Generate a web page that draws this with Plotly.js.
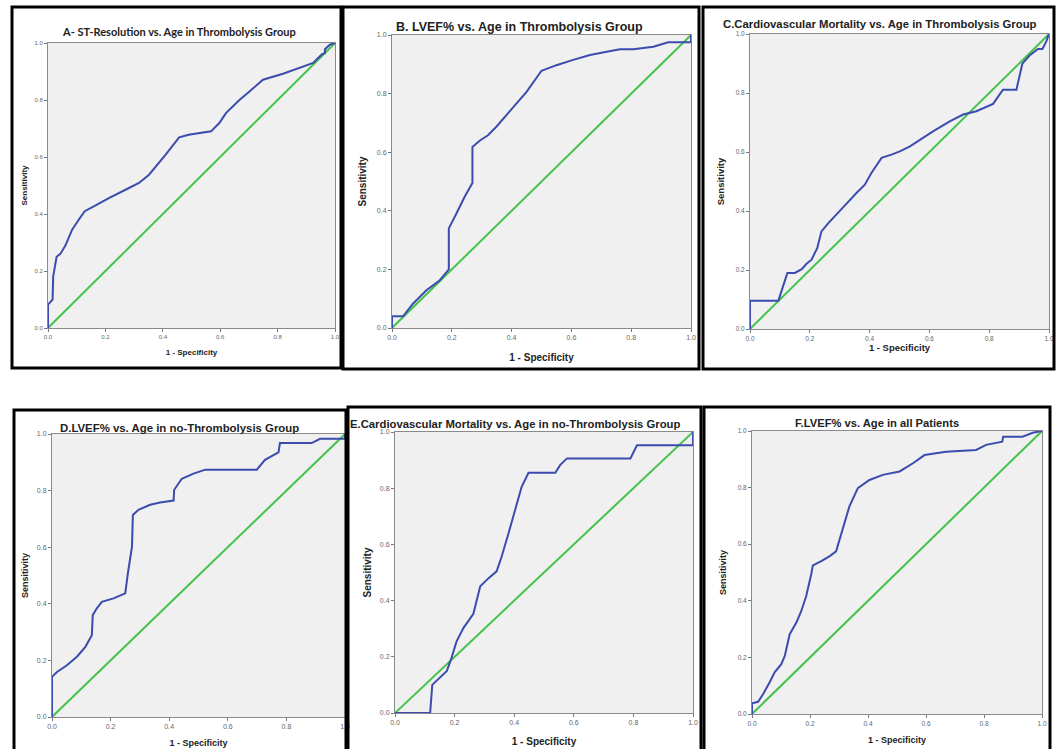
<!DOCTYPE html>
<html>
<head>
<meta charset="utf-8">
<script src="https://cdn.plot.ly/plotly-3.0.1.min.js"></script>
<style>html,body{margin:0;padding:0;background:#fff;}#chart{width:1058px;height:749px;}</style>
</head>
<body>
<div id="chart"></div>
<script>
// ---- Data ----
var panelTitles = [
  "A- ST-Resolution vs. Age in Thrombolysis Group",
  "B. LVEF% vs. Age in Thrombolysis Group",
  "C.Cardiovascular Mortality vs. Age in Thrombolysis Group",
  "D.LVEF% vs. Age in no-Thrombolysis Group",
  "E.Cardiovascular Mortality vs. Age in no-Thrombolysis Group",
  "F.LVEF% vs. Age in all Patients"
];
var xAxisTitle = "1 - Specificity";
var yAxisTitle = "Sensitivity";
var tickVals = [0, 0.2, 0.4, 0.6, 0.8, 1.0];
var tickText = ["0.0", "0.2", "0.4", "0.6", "0.8", "1.0"];
var diagX = [0, 1];
var diagY = [0, 1];

var aX = [0, 0, 0.016, 0.018, 0.03, 0.043, 0.061, 0.084, 0.107, 0.128, 0.166, 0.212, 0.27, 0.317, 0.352, 0.376, 0.41, 0.457, 0.49, 0.568, 0.597, 0.62, 0.667, 0.702, 0.749, 0.819, 0.924, 0.953, 0.965, 0.965, 0.982, 1];
var aY = [0, 0.082, 0.10, 0.18, 0.25, 0.26, 0.29, 0.345, 0.38, 0.41, 0.43, 0.456, 0.485, 0.509, 0.538, 0.567, 0.608, 0.669, 0.678, 0.69, 0.719, 0.754, 0.80, 0.83, 0.871, 0.892, 0.93, 0.959, 0.965, 0.978, 0.994, 1];

var bX = [0, 0, 0.037, 0.07, 0.115, 0.16, 0.19, 0.19, 0.215, 0.243, 0.269, 0.269, 0.293, 0.321, 0.349, 0.383, 0.417, 0.45, 0.5, 0.55, 0.606, 0.662, 0.718, 0.762, 0.807, 0.874, 0.924, 1, 1];
var bY = [0, 0.04, 0.04, 0.083, 0.129, 0.163, 0.20, 0.34, 0.39, 0.448, 0.495, 0.618, 0.639, 0.658, 0.687, 0.727, 0.766, 0.806, 0.878, 0.897, 0.915, 0.932, 0.943, 0.951, 0.951, 0.96, 0.975, 0.975, 1];

var cX = [0, 0, 0.095, 0.111, 0.125, 0.15, 0.173, 0.189, 0.206, 0.225, 0.239, 0.262, 0.29, 0.323, 0.356, 0.384, 0.406, 0.44, 0.473, 0.501, 0.535, 0.568, 0.612, 0.668, 0.713, 0.757, 0.78, 0.813, 0.846, 0.891, 0.911, 0.935, 0.963, 0.978, 0.991, 1];
var cY = [0, 0.096, 0.096, 0.145, 0.19, 0.19, 0.203, 0.221, 0.235, 0.275, 0.331, 0.359, 0.388, 0.425, 0.461, 0.489, 0.529, 0.58, 0.591, 0.602, 0.619, 0.642, 0.67, 0.704, 0.727, 0.738, 0.749, 0.763, 0.811, 0.811, 0.9, 0.927, 0.949, 0.949, 0.975, 1];

var dX = [0, 0, 0.017, 0.051, 0.085, 0.114, 0.136, 0.139, 0.153, 0.17, 0.21, 0.25, 0.259, 0.273, 0.276, 0.295, 0.335, 0.369, 0.415, 0.417, 0.443, 0.483, 0.523, 0.699, 0.727, 0.773, 0.778, 0.886, 0.915, 1, 1];
var dY = [0, 0.142, 0.159, 0.183, 0.213, 0.248, 0.289, 0.36, 0.384, 0.407, 0.419, 0.437, 0.508, 0.602, 0.714, 0.732, 0.75, 0.758, 0.765, 0.803, 0.842, 0.86, 0.874, 0.874, 0.909, 0.935, 0.968, 0.968, 0.983, 0.983, 1];

var eX = [0, 0.118, 0.125, 0.146, 0.174, 0.19, 0.207, 0.23, 0.263, 0.286, 0.314, 0.341, 0.358, 0.381, 0.403, 0.425, 0.448, 0.538, 0.554, 0.577, 0.79, 0.812, 1, 1];
var eY = [0, 0, 0.1, 0.12, 0.15, 0.197, 0.256, 0.303, 0.353, 0.451, 0.48, 0.504, 0.557, 0.64, 0.723, 0.805, 0.855, 0.855, 0.882, 0.906, 0.906, 0.953, 0.953, 1];

var fX = [0, 0, 0.021, 0.038, 0.061, 0.078, 0.101, 0.113, 0.13, 0.153, 0.17, 0.187, 0.204, 0.21, 0.239, 0.268, 0.29, 0.313, 0.336, 0.365, 0.405, 0.451, 0.509, 0.555, 0.595, 0.669, 0.773, 0.807, 0.863, 0.866, 0.933, 0.968, 1];
var fY = [0, 0.038, 0.043, 0.07, 0.112, 0.147, 0.176, 0.205, 0.282, 0.323, 0.364, 0.417, 0.493, 0.525, 0.54, 0.558, 0.575, 0.657, 0.734, 0.798, 0.827, 0.845, 0.857, 0.886, 0.915, 0.927, 0.933, 0.951, 0.962, 0.98, 0.98, 0.994, 1];

var curvesX = [aX, bX, cX, dX, eX, fX];
var curvesY = [aY, bY, cY, dY, eY, fY];

// ---- Layout geometry (pixels) ----
var W = 1058, H = 749;
var plotBoxes = [ // [left, right, top, bottom]
  [48, 335, 43, 328],
  [392, 691, 35, 328],
  [750, 1049, 34, 329],
  [52, 345, 434, 717],
  [395, 693, 432, 713],
  [752, 1042, 431, 714]
];
var frames = [ // [left, right, top, bottom]
  [12, 341, 7, 368],
  [343, 699, 7, 369],
  [703, 1054, 7, 369],
  [14, 346, 410, 762],
  [348, 701, 407, 762],
  [704, 1050, 407, 762]
];
var titleStyle = [ // [centerX, centerY, size, family]
  [179, 32, 11, "Lato, 'Liberation Sans', sans-serif"],
  [519, 27, 12.5, "'Liberation Sans', Arial, sans-serif"],
  [880, 24, 11.3, "'Liberation Sans', Arial, sans-serif"],
  [179, 428, 11.4, "'Liberation Sans', Arial, sans-serif"],
  [515, 424, 11.3, "'Liberation Sans', Arial, sans-serif"],
  [877, 423, 11.2, "'Liberation Sans', Arial, sans-serif"]
];
var axisTitleSize = [8, 10, 9.5, 9, 10, 9];
var xStandoff = [10, 13, 3, 10, 12, 10];
var yStandoff = [5, 8, 9, 6, 6, 9];
var tickSize = [6, 7, 6.5, 7, 7, 6.5];

var BLUE = "#3b4cae";
var GREEN = "#43c34b";
var FONT = "'Liberation Sans', Arial, sans-serif";

var traces = [];
var layout = {
  width: W, height: H,
  margin: {l: 0, r: 0, t: 0, b: 0, pad: 0},
  paper_bgcolor: "#ffffff",
  showlegend: false,
  font: {family: FONT, color: "#333"},
  annotations: [],
  shapes: []
};

for (var i = 0; i < 6; i++) {
  var n = i + 1;
  var xa = "x" + (n === 1 ? "" : n);
  var ya = "y" + (n === 1 ? "" : n);
  var xkey = "xaxis" + (n === 1 ? "" : n);
  var ykey = "yaxis" + (n === 1 ? "" : n);
  var b = plotBoxes[i];

  traces.push({
    x: diagX, y: diagY, xaxis: xa, yaxis: ya,
    mode: "lines", line: {color: GREEN, width: 2}, hoverinfo: "skip"
  });
  traces.push({
    x: curvesX[i], y: curvesY[i], xaxis: xa, yaxis: ya,
    mode: "lines", line: {color: BLUE, width: 2}, hoverinfo: "skip"
  });

  var common = {
    range: [0, 1], tickvals: tickVals, ticktext: tickText,
    ticks: "outside", ticklen: 3, tickwidth: 1, tickcolor: "#777",
    showline: true, mirror: true, linecolor: "#8a8a8a", linewidth: 1,
    showgrid: false, zeroline: false, fixedrange: true, automargin: false,
    tickfont: {size: tickSize[i], color: "#666", family: FONT}
  };
  layout[xkey] = Object.assign({}, common, {
    domain: [b[0] / W, b[1] / W],
    anchor: ya,
    title: {text: "<b>" + xAxisTitle + "</b>", font: {size: axisTitleSize[i], color: "#222", family: FONT}, standoff: xStandoff[i]}
  });
  layout[ykey] = Object.assign({}, common, {
    domain: [1 - b[3] / H, 1 - b[2] / H],
    anchor: xa,
    title: {text: "<b>" + yAxisTitle + "</b>", font: {size: axisTitleSize[i], color: "#222", family: FONT}, standoff: yStandoff[i]}
  });

  // plot background
  layout.shapes.push({
    type: "rect", xref: xa + " domain", yref: ya + " domain",
    x0: 0, x1: 1, y0: 0, y1: 1, layer: "below",
    fillcolor: "#f0f0f0", line: {width: 0}
  });

  // panel frame
  var f = frames[i];
  layout.shapes.push({
    type: "rect", xref: "paper", yref: "paper",
    x0: f[0] / W, x1: f[1] / W, y0: 1 - f[3] / H, y1: 1 - f[2] / H,
    layer: "above", line: {color: "#000", width: 3}, fillcolor: "rgba(0,0,0,0)"
  });

  var t = titleStyle[i];
  layout.annotations.push({
    text: "<b>" + panelTitles[i] + "</b>",
    xref: "paper", yref: "paper",
    x: t[0] / W, y: 1 - t[1] / H,
    xanchor: "center", yanchor: "middle", showarrow: false,
    font: {size: t[2], family: t[3], color: "#222"}
  });
}

Plotly.newPlot("chart", traces, layout, {staticPlot: true, displayModeBar: false});
</script>
</body>
</html>
